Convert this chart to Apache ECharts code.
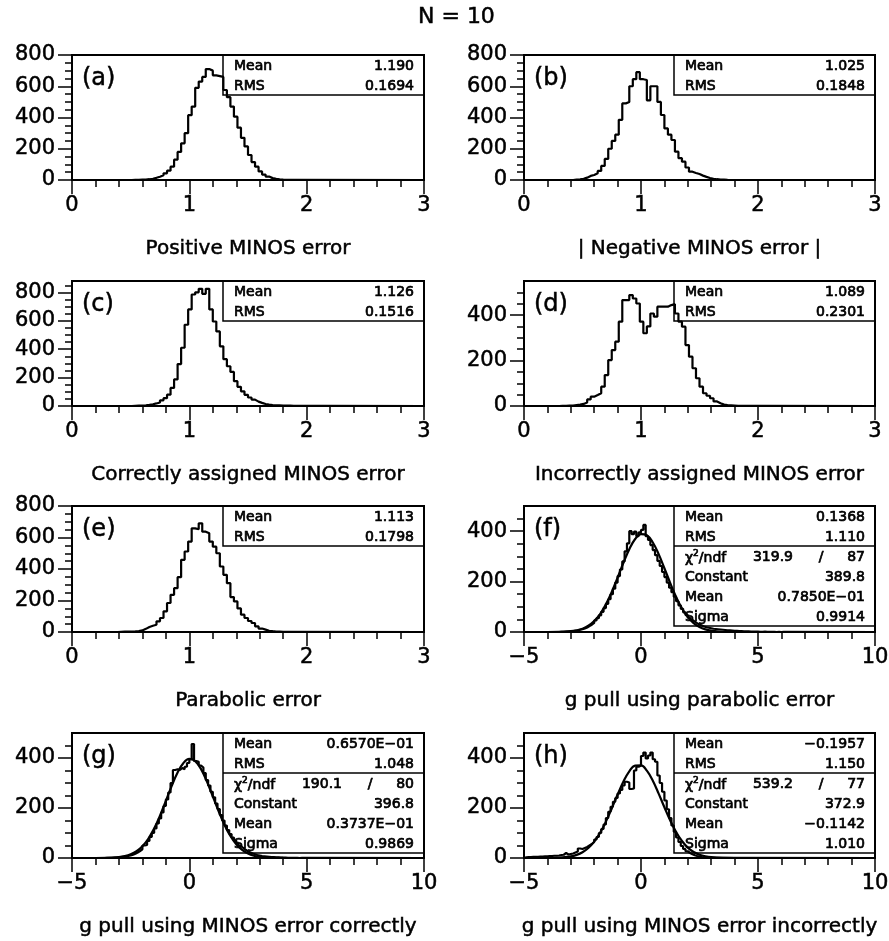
<!DOCTYPE html>
<html><head><meta charset="utf-8">
<script src="https://cdn.jsdelivr.net/npm/echarts@6/dist/echarts.min.js"></script>
<style>html,body{margin:0;padding:0;background:#fff}#c{width:889px;height:941px}</style>
</head><body><div id="c"></div>
<script>
// ---------------- data ----------------
const titleText = 'N = 10';
const panelLetters = ['(a)','(b)','(c)','(d)','(e)','(f)','(g)','(h)'];
const axisNames = ['Positive MINOS error','| Negative MINOS error |','Correctly assigned MINOS error',
  'Incorrectly assigned MINOS error','Parabolic error','g pull using parabolic error',
  'g pull using MINOS error correctly','g pull using MINOS error incorrectly'];

// error histograms: 100 bins on [0,3], first listed bin index given
const errXMin = 0, errXMax = 3, errBinWidth = 0.03;
const firstA = 17;
const countsA = [1,1,2,3,5,8,14,21,30,43,60,85,130,180,235,300,415,470,590,630,660,710,700,670,665,660,576,530,470,405,335,270,215,160,115,85,55,35,22,12,7,4,2,1,1];
const firstB = 14;
const countsB = [2,4,8,15,26,32,43,58,90,135,200,250,290,385,490,500,600,645,690,645,640,510,600,600,500,416,330,290,256,181,140,117,80,53,45,38,28,20,13,8,5,3,2,1];
const firstC = 17;
const countsC = [1,2,3,5,8,12,18,25,40,55,80,127,187,295,410,572,680,785,800,825,790,825,680,595,525,420,330,280,240,175,135,103,79,60,45,31,22,14,10,7,5,4,3,2,2,1,1,1,1,1,1,1,1,1];
const firstD = 10;
const countsD = [1,1,2,2,4,6,9,15,29,41,48,56,85,136,202,246,283,371,466,466,488,473,451,371,320,350,407,393,437,437,437,444,448,407,371,349,268,217,166,122,85,56,45,34,20,12,6,4,3,2,1,1,1,1,1,1];
const firstE = 13;
const countsE = [1,2,2,3,4,6,10,20,32,40,46,68,89,131,184,236,278,348,458,511,574,658,652,690,637,627,574,542,500,416,363,310,222,194,150,110,89,70,57,36,22,15,8,5,3,2,1,1];

// pull histograms: 150 bins on [-5,10]
const pullXMin = -5, pullXMax = 10, pullBinWidth = 0.1;
const firstF = 15;
const countsF = [1,1,2,2,3,4,5,6,9,11,14,18,24,29,36,46,55,66,80,95,112,130,150,172,196,222,248,280,320,352,400,388,398,380,395,405,425,380,365,345,325,305,282,262,238,218,196,176,158,140,122,106,92,78,67,57,48,41,35,30,26,22,19,17,15,13,12,11,10,9,8,7,7,6,5,5,4,4,3,3,3,2,2,2,2,1,1,2,1,1,1,1,0,1,0,1];
const firstG = 14;
const countsG = [1,1,1,2,2,3,4,5,6,8,10,13,17,22,28,35,50,52,68,84,100,118,138,158,182,208,234,262,300,352,355,352,360,355,365,380,395,456,388,385,370,362,340,312,290,265,243,218,196,172,150,130,112,96,82,70,58,48,40,33,27,22,18,15,12,10,8,7,6,5,4,4,3,3,2,2,2,1,1,1,1,1,0,1];
const firstH = 0;
const countsH = [3,4,4,5,5,5,6,6,7,7,8,8,9,9,10,12,13,20,14,16,18,22,26,38,36,40,44,50,56,64,74,84,100,116,134,160,185,205,225,240,258,272,290,305,302,276,278,350,365,370,408,422,398,410,422,395,385,330,300,265,230,195,160,130,105,82,64,48,36,27,20,15,11,8,6,4,3,2,2,1,1,1,1];

// Gaussian fit curves (f),(g),(h)
const fitX  = [-4,-3.5,-3,-2.75,-2.5,-2.25,-2,-1.75,-1.5,-1.25,-1,-0.75,-0.5,-0.25,0,0.25,0.5,0.75,1,1.25,1.5,1.75,2,2.25,2.5,2.75,3,3.5,4];
const fitYF = [0.08,0.58,3.1,6.7,13.2,24.7,43.3,71.2,109.8,158.9,215.7,274.9,328.8,369.0,388.6,384.0,356.1,309.9,253.1,193.9,139.4,94.1,59.6,35.4,19.7,10.3,5.1,1.0,0.16];
const fitYG = [0.09,0.64,3.5,7.4,14.6,27.0,47.1,77.0,117.9,169.6,228.4,288.6,342.1,380.3,396.5,387.7,355.5,305.7,246.6,186.5,132.3,88.0,54.9,32.1,17.6,9.1,4.4,0.84,0.13];
const fitYH = [0.23,1.35,6.3,12.4,22.9,39.9,65.3,100.4,145.5,198.1,253.9,305.9,346.7,369.5,370.5,349.4,310.0,258.6,202.9,149.8,104.0,67.9,41.7,24.1,13.1,6.7,3.2,0.62,0.09];

// axis ranges / ticks
const yMaxes = [800,800,880,550,800,500,500,500];
const yTicksBig = [0,200,400,600,800];
const yTicksSmall = [0,200,400];
const yMinorStep = 50;

// stats boxes
const statLabels = ['Mean','RMS'];
const fitLabels = ['Constant','Mean','Sigma'];
const statsA = ['1.190','0.1694'];
const statsB = ['1.025','0.1848'];
const statsC = ['1.126','0.1516'];
const statsD = ['1.089','0.2301'];
const statsE = ['1.113','0.1798'];
const statsF = ['0.1368','1.110'];
const statsG = ['0.6570E\u221201','1.048'];
const statsH = ['\u22120.1957','1.150'];
const fitF = ['319.9','87','389.8','0.7850E\u221201','0.9914'];
const fitG = ['190.1','80','396.8','0.3737E\u221201','0.9869'];
const fitH = ['539.2','77','372.9','\u22120.1142','1.010'];

// ---------------- layout ----------------
const cols = [{left:72, width:352},{left:524, width:351}];
const rows = [{top:55,height:125},{top:281,height:125},{top:506,height:126},{top:733,height:125}];
const FONT = 'DejaVu Sans';

const panels = [
  {counts:countsA, first:firstA, stats:statsA},
  {counts:countsB, first:firstB, stats:statsB},
  {counts:countsC, first:firstC, stats:statsC},
  {counts:countsD, first:firstD, stats:statsD},
  {counts:countsE, first:firstE, stats:statsE},
  {counts:countsF, first:firstF, stats:statsF, fit:fitF, fitY:fitYF},
  {counts:countsG, first:firstG, stats:statsG, fit:fitG, fitY:fitYG},
  {counts:countsH, first:firstH, stats:statsH, fit:fitH, fitY:fitYH}
];

const grids=[], xAxes=[], yAxes=[], series=[], graphics=[];
const minus = v => String(v).replace('-', '\u2212');
const heavy = {textBorderColor:'#000', textBorderWidth:0.5};

panels.forEach((p, i) => {
  const col = cols[i % 2], row = rows[Math.floor(i / 2)];
  const pull = i >= 5;
  const xMin = pull ? pullXMin : errXMin, xMax = pull ? pullXMax : errXMax;
  const bw = pull ? pullBinWidth : errBinWidth;
  const yMax = yMaxes[i];
  const major = (yMax >= 800 ? yTicksBig : yTicksSmall);
  const minorT = [];
  for (let v = yMinorStep; v < yMax; v += yMinorStep) if (v % 200 !== 0) minorT.push(v);

  grids.push({left:col.left, top:row.top, width:col.width, height:row.height, show:true,
    borderColor:'#000', borderWidth:2, backgroundColor:'transparent', containLabel:false, outerBoundsMode:'none'});

  xAxes.push({type:'value', gridIndex:i, min:xMin, max:xMax, interval: pull ? 5 : 1,
    axisLine:{show:true, onZero:false, lineStyle:{color:'#000', width:2}},
    axisTick:{show:true, length:14, lineStyle:{color:'#000', width:1.5}},
    minorTick:{show:true, splitNumber:5, length:7, lineStyle:{color:'#000', width:1.5}},
    splitLine:{show:false}, minorSplitLine:{show:false},
    axisLabel:Object.assign({color:'#000', fontSize:21, fontFamily:FONT, margin:15, formatter: v => minus(v)}, heavy),
    name: axisNames[i], nameLocation:'middle', nameGap:59,
    nameTextStyle:Object.assign({color:'#000', fontSize:20, fontFamily:FONT}, heavy)});

  yAxes.push({type:'value', gridIndex:i, position:'left', min:0, max:yMax,
    axisLine:{show:true, onZero:false, lineStyle:{color:'#000', width:2}},
    axisTick:{show:true, length:14, customValues:major, lineStyle:{color:'#000', width:1.5}},
    axisLabel:Object.assign({color:'#000', fontSize:21, fontFamily:FONT, margin:17, customValues:major}, heavy),
    splitLine:{show:false}});
  yAxes.push({type:'value', gridIndex:i, position:'left', min:0, max:yMax,
    axisLine:{show:false, onZero:false},
    axisTick:{show:true, length:7, customValues:minorT, lineStyle:{color:'#000', width:1.5}},
    axisLabel:{show:false}, splitLine:{show:false}});

  // histogram outline from bin counts
  const pts = [[xMin, 0]];
  p.counts.forEach((c, k) => pts.push([xMin + (p.first + k) * bw, c]));
  pts.push([xMin + (p.first + p.counts.length) * bw, 0]);
  pts.push([xMax, 0]);
  series.push({type:'line', xAxisIndex:i, yAxisIndex:2*i, data:pts, step:'end', symbol:'none',
    lineStyle:{color:'#000', width:2.2}, silent:true, animation:false, z:3});

  if (p.fitY) {
    series.push({type:'line', xAxisIndex:i, yAxisIndex:2*i, data: fitX.map((x, k) => [x, p.fitY[k]]),
      smooth:0.4, symbol:'none', lineStyle:{color:'#000', width:2.2}, silent:true, animation:false, z:4});
  }

  // panel letter
  graphics.push({type:'text', x:col.left + 10, y:row.top + 24, silent:true,
    style:{text:panelLetters[i], fill:'#000', stroke:'#000', lineWidth:0.5, fontSize:24, fontFamily:FONT, align:'left', verticalAlign:'middle'}});

  // stats box
  const bwid = 201, right = col.left + col.width, bx = right - bwid, by = row.top;
  const nRows = p.fit ? 6 : 2;
  graphics.push({type:'rect', silent:true, shape:{x:bx, y:by, width:bwid, height:nRows*20},
    style:{fill:'none', stroke:'#000', lineWidth:1.5}});
  if (p.fit) graphics.push({type:'line', silent:true, shape:{x1:bx, y1:by+40, x2:right, y2:by+40},
    style:{stroke:'#000', lineWidth:1.5}});
  const txt = (t, x, y, align) => graphics.push({type:'text', x, y, silent:true,
    style:{text:t, fill:'#000', stroke:'#000', lineWidth:0.7, fontSize:14, fontFamily:FONT, align, verticalAlign:'middle'}});
  statLabels.forEach((l, k) => { txt(l, bx + 11, by + 11 + 20*k, 'left'); txt(p.stats[k], right - 10, by + 11 + 20*k, 'right'); });
  if (p.fit) {
    graphics.push({type:'text', x:bx + 11, y:by + 51, silent:true,
      style:{text:'{c|\u03c7}{s|2}{c|/ndf}', fill:'#000', stroke:'#000', lineWidth:0.7, align:'left', verticalAlign:'middle',
        rich:{c:{fontSize:14, fontFamily:FONT, fill:'#000', lineHeight:16, verticalAlign:'bottom'},
              s:{fontSize:9, fontFamily:FONT, fill:'#000', lineHeight:16, verticalAlign:'top'}}}});
    txt(p.fit[0], bx + 119, by + 51, 'right');
    txt('/', bx + 147, by + 51, 'center');
    txt(p.fit[1], right - 10, by + 51, 'right');
    fitLabels.forEach((l, k) => { txt(l, bx + 11, by + 71 + 20*k, 'left'); txt(p.fit[k+2], right - 10, by + 71 + 20*k, 'right'); });
  }
});

graphics.push({type:'text', x:418, y:17, silent:true,
  style:{text:titleText, fill:'#000', stroke:'#000', lineWidth:0.5, fontSize:22, fontFamily:FONT, align:'left', verticalAlign:'middle'}});

const chart = echarts.init(document.getElementById('c'), null, {renderer:'canvas'});
chart.setOption({backgroundColor:'#fff', animation:false, grid:grids, xAxis:xAxes, yAxis:yAxes, series, graphic:graphics});
</script>
</body></html>
